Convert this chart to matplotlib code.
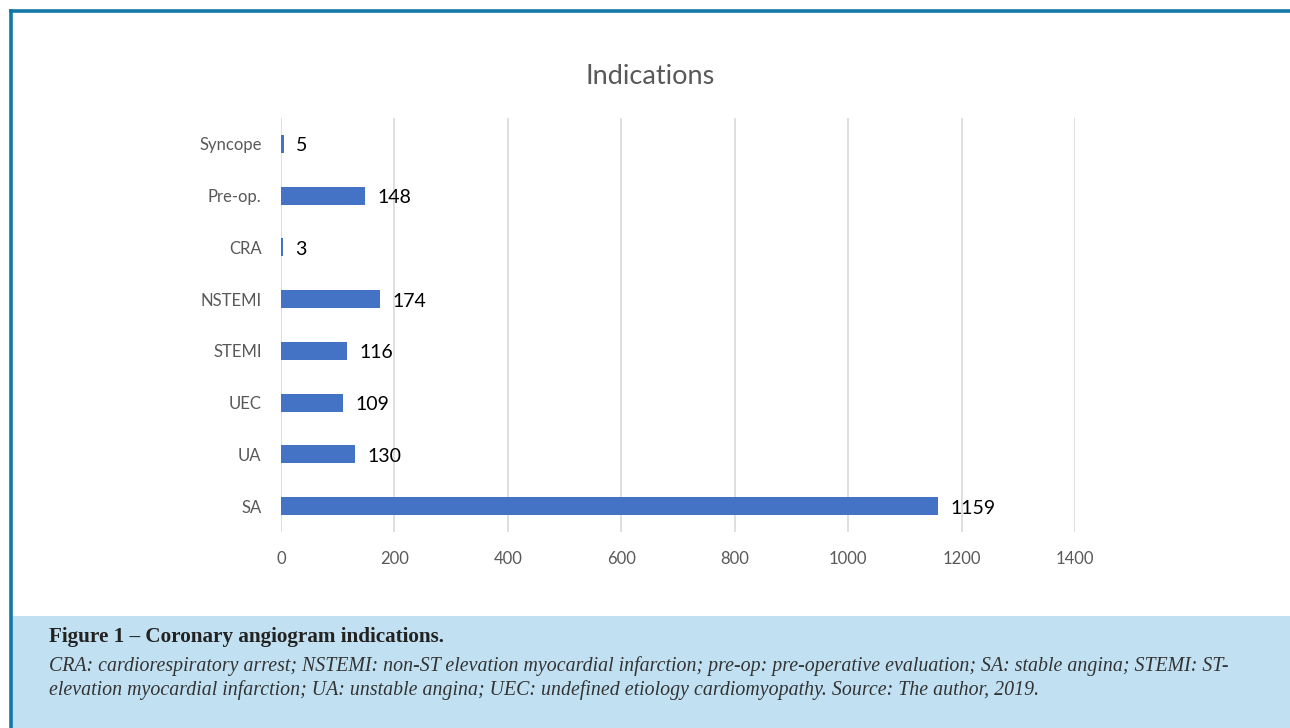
import matplotlib
matplotlib.use("Agg")
import matplotlib.pyplot as plt
from matplotlib.patches import Rectangle
from matplotlib.lines import Line2D

categories = ["SA", "UA", "UEC", "STEMI", "NSTEMI", "CRA", "Pre-op.", "Syncope"]
values = [1159, 130, 109, 116, 174, 3, 148, 5]
xticks = [0, 200, 400, 600, 800, 1000, 1200, 1400]

W, H = 1290, 728
fig = plt.figure(figsize=(W / 100, H / 100), dpi=100)
fig.patch.set_facecolor("white")

# caption box and frame
fig.add_artist(Rectangle((12 / W, 0), 1 - 12 / W, (H - 616) / H, transform=fig.transFigure,
                         facecolor="#c1e1f2", edgecolor="none", zorder=0))
blue = "#1278a6"
fig.add_artist(Line2D([10.5 / W, 10.5 / W], [0, 1 - 11 / H], transform=fig.transFigure,
                      color=blue, lw=2.6, solid_capstyle="projecting"))
fig.add_artist(Line2D([10.5 / W, 1], [1 - 11 / H, 1 - 11 / H], transform=fig.transFigure,
                      color=blue, lw=2.6, solid_capstyle="projecting"))

ax = fig.add_axes([281 / W, 1 - 532 / H, (1075 - 281) / W, (532 - 118) / H])
ypos = list(range(len(categories)))
ax.barh(ypos, values, height=0.35, color="#4472c4", zorder=3)
ax.set_xlim(0, 1400)
ax.set_ylim(-0.5, len(categories) - 0.5)
ax.set_xticks(xticks)
ax.set_xticklabels([str(t) for t in xticks])
ax.set_yticks(ypos)
ax.set_yticklabels(categories)
for s in ax.spines.values():
    s.set_visible(False)
ax.tick_params(axis="both", length=0, labelsize=12, labelcolor="#595959", pad=14)
ax.tick_params(axis="x", pad=14)
ax.xaxis.grid(True, color="#d9d9d9", lw=1.2, zorder=0)
ax.set_axisbelow(True)
for lbl in ax.get_xticklabels() + ax.get_yticklabels():
    lbl.set_fontfamily("Lato")

for y, v in zip(ypos, values):
    ax.annotate(str(v), (v, y), xytext=(9, -1.5), textcoords="offset points",
                va="center", ha="left", fontsize=14, fontfamily="Lato", color="black")

fig.text(650 / W, 1 - 76 / H, "Indications", ha="center", va="center",
         fontsize=19.5, color="#595959", fontfamily="Lato")

fig.text(49 / W, 1 - 637 / H, "Figure 1 \u2013 Coronary angiogram indications.", ha="left", va="center",
         fontsize=15.2, fontweight="bold", fontfamily="Liberation Serif", color="#222222")
fig.text(49 / W, 1 - 666 / H,
         "CRA: cardiorespiratory arrest; NSTEMI: non-ST elevation myocardial infarction; pre-op: pre-operative evaluation; SA: stable angina; STEMI: ST-",
         ha="left", va="center", fontsize=14.3, fontstyle="italic", fontfamily="Liberation Serif", color="#333333")
fig.text(49 / W, 1 - 690 / H,
         "elevation myocardial infarction; UA: unstable angina; UEC: undefined etiology cardiomyopathy. Source: The author, 2019.",
         ha="left", va="center", fontsize=14.3, fontstyle="italic", fontfamily="Liberation Serif", color="#333333")

fig.savefig("out.png", dpi=100, facecolor="white")
